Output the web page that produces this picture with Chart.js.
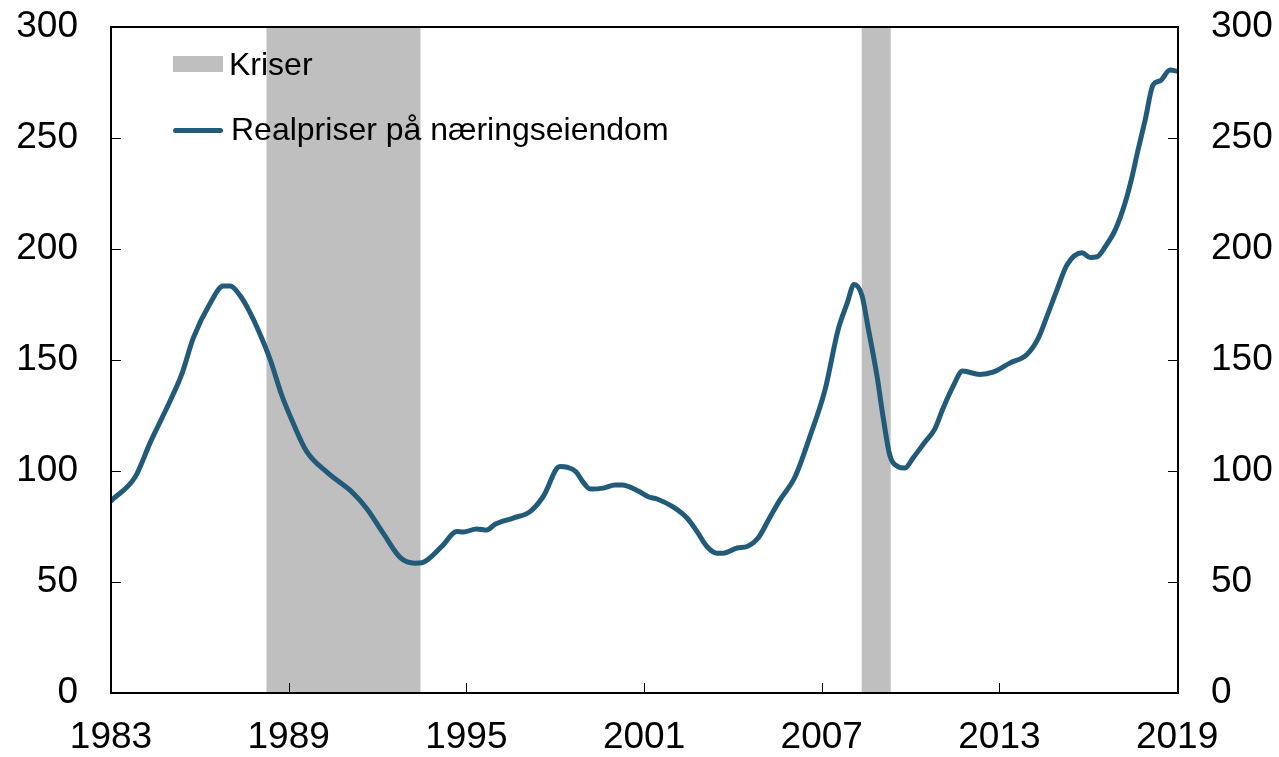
<!DOCTYPE html>
<html>
<head>
<meta charset="utf-8">
<script src="https://cdn.jsdelivr.net/npm/chart.js@4.4.0/dist/chart.umd.min.js"></script>
<style>
  body { margin: 0; background: #fff; }
  #wrap { position: relative; width: 1279px; height: 757px; font-family: "Liberation Sans", Arial, sans-serif; }
  .lg { position: absolute; font-size: 32px; color: #000; line-height: 32px; white-space: nowrap; }
  .box { position: absolute; left: 173px; top: 56px; width: 50px; height: 16px; background: #bfbfbf; }
  .ln { position: absolute; left: 173px; top: 128px; width: 50px; height: 5px; background: #225a7a; border-radius: 3px; }
</style>
</head>
<body>
<div id="wrap">
  <canvas id="chart" width="1279" height="757"></canvas>
  <div class="box"></div>
  <div class="lg" style="left:229px; top:48px;">Kriser</div>
  <div class="ln"></div>
  <div class="lg" style="left:231px; top:113px;">Realpriser på næringseiendom</div>
</div>
<script>
const years = [1983.00, 1983.82, 1984.33, 1985.01, 1985.40, 1985.78, 1986.35, 1986.79, 1987.03, 1987.36,
  1987.63, 1987.97, 1988.38, 1988.77, 1989.15, 1989.61, 1990.29, 1990.67, 1991.18, 1991.64,
  1992.19, 1992.77, 1993.27, 1993.50, 1994.17, 1994.68, 1994.89, 1995.35, 1995.69, 1995.97,
  1996.58, 1997.15, 1997.59, 1998.16, 1998.40, 1998.70, 1998.94, 1999.18, 1999.62, 2000.02,
  2000.26, 2000.80, 2001.14, 2001.44, 2001.98, 2002.45, 2002.79, 2003.13, 2003.46, 2003.67,
  2004.14, 2004.48, 2004.85, 2005.26, 2005.59, 2006.10, 2006.60, 2007.11, 2007.55, 2007.86,
  2008.09, 2008.36, 2008.56, 2008.87, 2009.07, 2009.30, 2009.57, 2009.81, 2010.08, 2010.48,
  2010.82, 2011.09, 2011.43, 2011.76, 2012.34, 2012.78, 2013.35, 2013.93, 2014.30, 2014.60,
  2014.94, 2015.28, 2015.79, 2016.06, 2016.30, 2016.57, 2016.91, 2017.24, 2017.48, 2017.68,
  2017.92, 2018.19, 2018.43, 2018.76, 2019.03];
const prices = [86.5, 97.4, 113, 132, 144, 160, 175.6, 183.3, 183.3, 179,
  173, 163.5, 150, 134, 121.6, 108.7, 99.5, 95.5, 90, 83,
  72, 61, 58.5, 58.7, 66, 72.7, 72.5, 73.9, 73.4, 76,
  78.8, 81.7, 88.4, 102, 101.7, 99.7, 95, 91.9, 92.3, 93.7,
  93.7, 91, 88.4, 87.4, 83.8, 78.8, 72.7, 65.9, 63, 63,
  65.3, 66, 69.8, 79.4, 87, 97.4, 115.5, 136.5, 163.5, 175.6,
  184, 179, 165, 142.5, 124.5, 107, 102, 101.3, 105.8, 113,
  119, 128, 138, 145, 143.5, 144.5, 148.6, 152.5, 159.5, 169.5,
  181.5, 192.8, 198.3, 196.2, 196.5, 201, 208.6, 220.6, 232.6, 244.6,
  258, 274, 275.8, 280.6, 280];

// crisis periods
const crisisStart = [1988.25, 2008.35];
const crisisEnd = [1993.45, 2009.33];

const xTicks = [1983, 1989, 1995, 2001, 2007, 2013, 2019];
const yTicks = [0, 50, 100, 150, 200, 250, 300];

const points = years.map((y, i) => ({ x: y, y: prices[i] }));
const tickFont = { family: "'Liberation Sans', Arial, sans-serif", size: 37 };

// let tick labels overhang the plot edges instead of shrinking the plot
function noOverhang(s) {
  s.paddingTop = 0;
  s.paddingBottom = 0;
  s.paddingLeft = 0;
  s.paddingRight = 0;
}

const framePlugin = {
  id: "frame",
  beforeDatasetsDraw(chart) {
    const { ctx, chartArea: a, scales } = chart;
    ctx.save();
    ctx.fillStyle = "#bfbfbf";
    crisisStart.forEach((s, i) => {
      const x0 = scales.x.getPixelForValue(s);
      const x1 = scales.x.getPixelForValue(crisisEnd[i]);
      ctx.fillRect(x0, a.top, x1 - x0, a.bottom - a.top);
    });
    ctx.restore();
  },
  afterDatasetsDraw(chart) {
    const { ctx, chartArea: a, scales } = chart;
    ctx.save();
    ctx.strokeStyle = "#000";
    ctx.lineWidth = 1;
    ctx.beginPath();
    xTicks.forEach(v => {
      const x = Math.round(scales.x.getPixelForValue(v)) + 0.5;
      ctx.moveTo(x, a.bottom);
      ctx.lineTo(x, a.bottom - 10);
    });
    yTicks.forEach(v => {
      const y = Math.round(scales.y.getPixelForValue(v)) + 0.5;
      ctx.moveTo(a.left, y);
      ctx.lineTo(a.left + 10, y);
      ctx.moveTo(a.right, y);
      ctx.lineTo(a.right - 10, y);
    });
    ctx.stroke();
    ctx.lineWidth = 2;
    ctx.strokeRect(a.left, a.top, a.right - a.left, a.bottom - a.top);
    ctx.restore();
  }
};

new Chart(document.getElementById("chart"), {
  type: "line",
  data: {
    datasets: [{
      label: "Realpriser på næringseiendom",
      data: points,
      borderColor: "#225a7a",
      borderWidth: 5,
      pointRadius: 0,
      cubicInterpolationMode: "monotone",
      borderCapStyle: "round",
      borderJoinStyle: "round",
      yAxisID: "y"
    }]
  },
  options: {
    responsive: false,
    animation: false,
    layout: { padding: { top: 27, left: 0, right: 0, bottom: 0 } },
    plugins: { legend: { display: false }, tooltip: { enabled: false } },
    scales: {
      x: {
        type: "linear",
        min: 1983,
        max: 2019.03,
        grid: { display: false, drawTicks: false },
        border: { display: false },
        afterBuildTicks: s => { s.ticks = xTicks.map(v => ({ value: v })); },
        afterFit: s => { s.height = 64; noOverhang(s); },
        ticks: { font: tickFont, color: "#000", padding: 23, maxRotation: 0, autoSkip: false, callback: v => String(v) }
      },
      y: {
        position: "left",
        min: 0,
        max: 300,
        grid: { display: false, drawTicks: false },
        border: { display: false },
        afterBuildTicks: s => { s.ticks = yTicks.map(v => ({ value: v })); },
        afterFit: s => { s.width = 111; noOverhang(s); },
        ticks: { font: tickFont, color: "#000", padding: 33 }
      },
      y2: {
        position: "right",
        min: 0,
        max: 300,
        grid: { display: false, drawTicks: false },
        border: { display: false },
        afterBuildTicks: s => { s.ticks = yTicks.map(v => ({ value: v })); },
        afterFit: s => { s.width = 101; noOverhang(s); },
        ticks: { font: tickFont, color: "#000", padding: 33 }
      }
    }
  },
  plugins: [framePlugin]
});
</script>
</body>
</html>
